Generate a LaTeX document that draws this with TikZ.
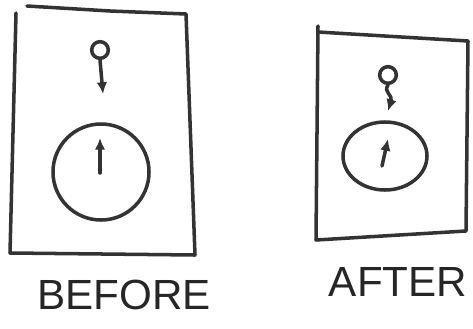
\documentclass[tikz,border=0pt]{standalone}
\usepackage{fontspec}
\setsansfont{Liberation Sans}
\usetikzlibrary{arrows.meta,positioning,shapes.geometric}

\begin{document}
\begin{tikzpicture}[
  x=0.03cm, y=-0.03cm,
  ink/.style={draw=black!80, line width=3pt, line join=round, line cap=round},
  arrowline/.style={ink, -{Latex[length=10pt,width=9pt]}},
  knob/.style={circle, ink, minimum size=0.5cm, inner sep=0pt},
  caption/.style={font=\sffamily\fontsize{36}{40}\selectfont, text=black!85}
]
\useasboundingbox (0,0) rectangle (473,328);

% before
\draw[ink] (27,6) -- (110,11) -- (186,14) -- (195,255) -- (10,253) -- (16,13);
\node[knob] (knobA) at (100,50) {};
\coordinate (tipA) at (103,94);
\draw[arrowline] (knobA.south) -- (tipA);
\node[circle, ink, minimum size=2.88cm, inner sep=0pt] (holeA) at (101,172) {};
\coordinate (baseA) at (100,173);
\coordinate (upA) at (100,138);
\draw[arrowline] (baseA) -- (upA);
\node[caption] (before) at (124,295) {BEFORE};

% after
\draw[ink] (318,32) -- (468,41) -- (466,231) -- (316,240) -- (318,26);
\node[knob] (knobB) at (388,75) {};
\coordinate (tipB) at (388,111);
\draw[arrowline] (knobB.south) .. controls (383,92) and (393,95) .. (tipB);
\node[ellipse, ink, minimum width=2.52cm, minimum height=2.04cm, inner sep=0pt] (holeB) at (385,156) {};
\coordinate (baseB) at (382,166);
\coordinate (upB) at (388,139);
\draw[arrowline] (baseB) -- (upB);
\node[caption] (after) at (398,282) {AFTER};
\end{tikzpicture}
\end{document}
